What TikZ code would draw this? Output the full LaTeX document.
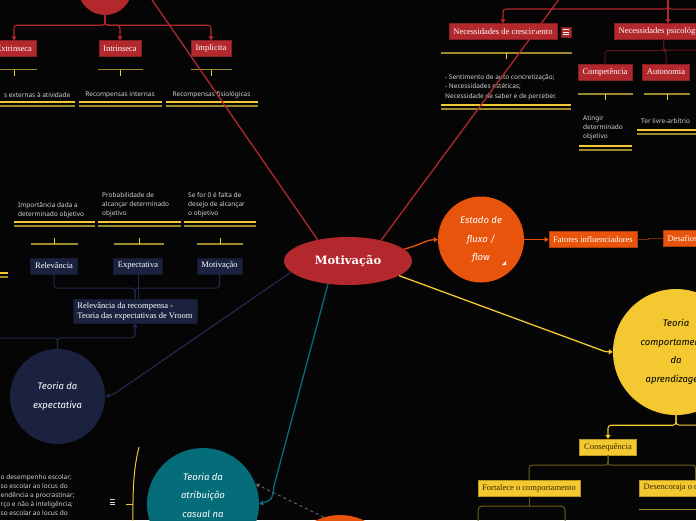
\documentclass[tikz,border=0pt]{standalone}
\usepackage{fontspec}
\setmainfont{Liberation Serif}
\newfontfamily\notefont{Noto Sans}
\newfontfamily\handfont{Fira Sans}
\newfontfamily\titlefont{DejaVu Serif}
\usetikzlibrary{arrows.meta, shapes.geometric}
\definecolor{cbg}{HTML}{050505}
\definecolor{cred}{HTML}{B2282D}
\definecolor{cdred}{HTML}{5E1517}
\definecolor{cnavy}{HTML}{1B223F}
\definecolor{cnavyl}{HTML}{1F2848}
\definecolor{cteal}{HTML}{056C7A}
\definecolor{corange}{HTML}{E9540C}
\definecolor{cdorange}{HTML}{7A2A08}
\definecolor{cyellow}{HTML}{F4C830}
\definecolor{colive}{HTML}{9C8A2C}
\definecolor{cdolive}{HTML}{6E5E1C}
\definecolor{cbrown}{HTML}{3B2A05}
\definecolor{cnote}{HTML}{D6D6D6}
\definecolor{cgray}{HTML}{6A6A6A}
\tikzset{
  mapbox/.style={draw=#1!75!black, fill=#1, text=white, font=\fontsize{8.5}{9.5}\selectfont, inner xsep=4.5pt, inner ysep=2pt, minimum height=16pt},
  mapbox/.default=cred,
  topic/.style={circle, fill=#1, inner sep=0pt, text=white, align=center, font=\handfont\itshape\fontsize{9.5}{18.5}\selectfont},
  note/.style={text=cnote, font=\notefont\fontsize{6.5}{9}\selectfont, align=left, inner sep=0pt},
  branch/.style={draw=#1, line width=1.3pt},
  headtip/.style={-{Triangle[length=4pt, width=5pt]}},
  link/.style={draw=#1, line width=1.1pt, rounded corners=3pt, headtip},
  sublink/.style={draw=#1, line width=1pt, rounded corners=3pt},
  barline/.style={draw=colive, line width=1.3pt},
  tickline/.style={draw=cyellow, line width=1pt},
}
\newcommand{\notebar}[4]{
  \draw[barline] (#1,#3) -- (#2,#3);
  \draw[tickline] ({(#1+#2)/2},#3) -- ++(0,#4);}
\newcommand{\dunder}[3]{
  \draw[draw=cyellow, line width=1.1pt] (#1,#3) -- (#2,#3);
  \draw[draw=colive, line width=1.3pt] (#1,{#3+4}) -- (#2,{#3+4});}

\begin{document}
\begin{tikzpicture}[x=1pt, y=-1pt]
  \useasboundingbox (0,0) rectangle (696,520);
  \clip (0,0) rectangle (696,520);
  \fill[cbg] (0,0) rectangle (696,520);

  \node[ellipse, fill=cred, minimum width=128pt, minimum height=48pt, text=white, font=\titlefont\bfseries\fontsize{11.5}{13}\selectfont] (motiv) at (348,261) {Motivação};

  % tipos
  \node[circle, fill=cred, minimum size=54pt] (tipos) at (105,-12) {};
  \node[mapbox] (extr) at (14,48.5) {Extrinseca};
  \node[mapbox] (intr) at (120,48.5) {Intrinseca};
  \node[mapbox] (impl) at (211,48.5) {Implicita};
  \node[note, anchor=east] (nextr) at (70.5,95) {s externas à atividade};
  \node[note] (nintr) at (120,95) {Recompensas internas};
  \node[note] (nimpl) at (211.5,95) {Recompensas fisiológicas};
  \notebar{-9}{37}{69.5}{6}
  \notebar{98}{143}{69.5}{6}
  \notebar{191}{232}{69.5}{6}
  \dunder{-5}{75}{102}
  \dunder{79}{162}{102}
  \dunder{166}{258}{102}

  % necessidades
  \node[mapbox] (cresc) at (503,31.5) {Necessidades de crescimento};
  \node[mapbox, minimum width=10pt, minimum height=10pt, inner sep=0pt] (crescicon) at (566,32) {};
  \foreach \dy in {-2.5,0,2.5}
    \draw[white, line width=0.6pt] ([xshift=-3pt]crescicon.center) ++(0,\dy) -- ++(6,0);
  \node[mapbox, anchor=west] (psico) at (614,31.5) {Necessidades psicológicas};
  \node[mapbox] (compet) at (605,72) {Competência};
  \node[mapbox] (auton) at (666,72) {Autonomia};
  \node[note, anchor=north west, font=\notefont\fontsize{6.5}{9.5}\selectfont] (ncresc) at (445,74) {- Sentimento de auto concretização;\\- Necessidades estéticas;\\Necessidade de saber e de perceber.};
  \node[note, anchor=north west] (ncompet) at (583,116) {Atingir\\determinado\\objetivo};
  \node[note, anchor=west] (nauton) at (641,121) {Ter livre-arbítrio};
  \notebar{441}{572}{53}{6}
  \dunder{441}{571}{105}
  \notebar{578}{633}{94}{6}
  \notebar{644}{690}{94}{6}
  \dunder{579}{632}{146}
  \dunder{637}{720}{130}

  % fluxo
  \node[topic=corange, minimum size=86pt] (flow) at (481,239.5) {Estado de\\fluxo /\\flow};
  \fill[white] (502,265) -- (506,265) -- (506,261) -- cycle;
  \node[mapbox=corange] (fatores) at (593,239.5) {Fatores influenciadores};
  \node[mapbox=corange, anchor=west] (desaf) at (663,238.5) {Desafios};

  % expectativa
  \node[topic=cnavy, minimum size=95pt] (expect) at (57.5,396.5) {Teoria da\\expectativa};
  \node[mapbox=cnavy, align=left, font=\fontsize{8.5}{10}\selectfont, inner ysep=3pt] (vroom) at (135,311.5) {Relevância da recompensa -\\Teoria das expectativas de Vroom};
  \node[mapbox=cnavy] (relev) at (54,266) {Relevância};
  \node[mapbox=cnavy] (expvar) at (138,266) {Expectativa};
  \node[mapbox=cnavy] (motvar) at (219.5,266) {Motivação};
  \node[note, anchor=north west] (nrelev) at (18,202) {Importância dada a\\determinado objetivo};
  \node[note, anchor=north west] (nexpvar) at (102,192) {Probabilidade de\\alcançar determinado\\objetivo};
  \node[note, anchor=north west] (nmotvar) at (188,192) {Se for 0 é falta de\\desejo de alcançar\\o objetivo};
  \dunder{14}{95}{222}
  \dunder{98}{181}{222}
  \dunder{184}{256}{222}
  \notebar{31}{78}{244}{-6}
  \notebar{114}{164}{244}{-6}
  \notebar{197}{243}{244}{-6}
  \dunder{-10}{8}{273}

  % atribuicao
  \node[circle, fill=cteal, minimum size=112pt] (atrib) at (203,504) {};
  \node[text=white, align=center, inner sep=0pt, anchor=north, font=\handfont\itshape\fontsize{9.5}{18.5}\selectfont] (atribtxt) at (203,472.5) {Teoria da\\atribuição\\casual na};
  \node[note, anchor=north west] (natrib) at (0.5,474) {o desempenho escolar;\\so escolar ao locus do\\endência a procrastinar;\\rço e não à inteligência;\\so escolar ao locus do};
  \draw[draw=cyellow, line width=1pt] (139,447) .. controls (132,475) and (133,500) .. (133,530);
  \draw[draw=cyellow, line width=1pt] (126,504) -- (133,504);
  \foreach \yy in {499.5,502,504.5}
    \draw[cnote, line width=0.7pt] (109.5,\yy) -- (115,\yy);

  \node[circle, fill=corange, minimum size=110pt] (bottopic) at (340,570) {};

  % comportamental
  \node[topic=cyellow, text=black, minimum size=126pt] (compor) at (676,352) {Teoria\\comportamental\\da\\aprendizagem};
  \node[mapbox=cyellow, text=cbrown] (conseq) at (608,447) {Consequência};
  \node[mapbox=cyellow, text=cbrown] (fortal) at (529,488) {Fortalece o comportamento};
  \node[mapbox=cyellow, text=cbrown, anchor=west] (desenc) at (639,488) {Desencoraja o comportamento};
  \node[draw=cdolive, rounded corners=4pt, line width=1pt, minimum width=87pt, minimum height=40pt] (fortnote) at (521.5,526) {};
  \draw[barline] (639,509.5) -- (720,509.5);

  \coordinate (offtl) at (121,-45);
  \coordinate (offtr) at (588,-40);
  \coordinate (offnec) at (668,-20);
  \coordinate (offnec2) at (720,9);
  \coordinate (offps) at (720,50);
  \coordinate (offexp) at (-20,338);
  \coordinate (offcr) at (720,425);

  \draw[branch=cred] (motiv.145) -- (offtl);
  \draw[branch=cred] (motiv.32.5) -- (offtr);
  \draw[branch=cnavyl, headtip, rounded corners=3pt] (motiv.191) -- (114,394) -- (expect.east);
  \draw[branch=cteal, headtip] (motiv.229) -- (274,486) .. controls (272,500) .. (atrib.east);
  \draw[draw=cgray, dashed, line width=0.9pt, -{Triangle[length=4pt, width=4pt]}] (bottopic.107) -- (atrib.21);
  \draw[branch=corange, headtip] (motiv.12) .. controls (421,245) and (425,240) .. (flow.west);
  \draw[branch=corange, headtip] (flow.east) -- (fatores.west);
  \draw[draw=cdorange, line width=0.9pt] (fatores.east) -- ++(11,0) |- (desaf.west);
  \draw[branch=cyellow, headtip] (motiv.344) -- (605,351.5) -- (compor.west);

  \draw[link=cred] (tipos.south) -- ++(0,10) -| (extr.north);
  \draw[link=cred] (tipos.south) -- ++(0,10) -| (intr.north);
  \draw[link=cred] (tipos.south) -- ++(0,10) -| (impl.north);

  \draw[link=cred] (offnec) -- ++(0,29) -| (cresc.north);
  \draw[link=cred] (offnec) -- (offnec |- psico.north);
  \draw[sublink=cred] (offnec) |- (offnec2);
  \draw[sublink=cdred] (psico.south) -- ++(0,11) -| (compet.north);
  \draw[sublink=cdred] (psico.south) -- ++(0,11) -| (auton.north);
  \draw[sublink=cdred] (psico.south) |- (offps);

  \draw[sublink=cnavyl] (relev.south) -- ++(0,14) -| (vroom.north);
  \draw[sublink=cnavyl] (motvar.south) -- ++(0,14) -| (vroom.north);
  \draw[sublink=cnavyl] (expvar.south) -- (expvar.south |- vroom.north);
  \draw[link=cnavyl] (expect.north) -- ++(0,-11) -| (vroom.south);
  \draw[sublink=cnavyl] (expect.north) |- (offexp);

  \draw[link=cyellow] (compor.south) -- ++(0,10) -| (conseq.north);
  \draw[sublink=cyellow] (compor.south) |- (offcr);
  \draw[sublink=cdolive] (conseq.south) -- ++(0,10) -| (fortal.north);
  \draw[sublink=cdolive] (conseq.south) -- ++(0,10) -| (desenc.north);
  \draw[sublink=cdolive] (fortal.south) -- (fortal.south |- fortnote.north);
\end{tikzpicture}
\end{document}
